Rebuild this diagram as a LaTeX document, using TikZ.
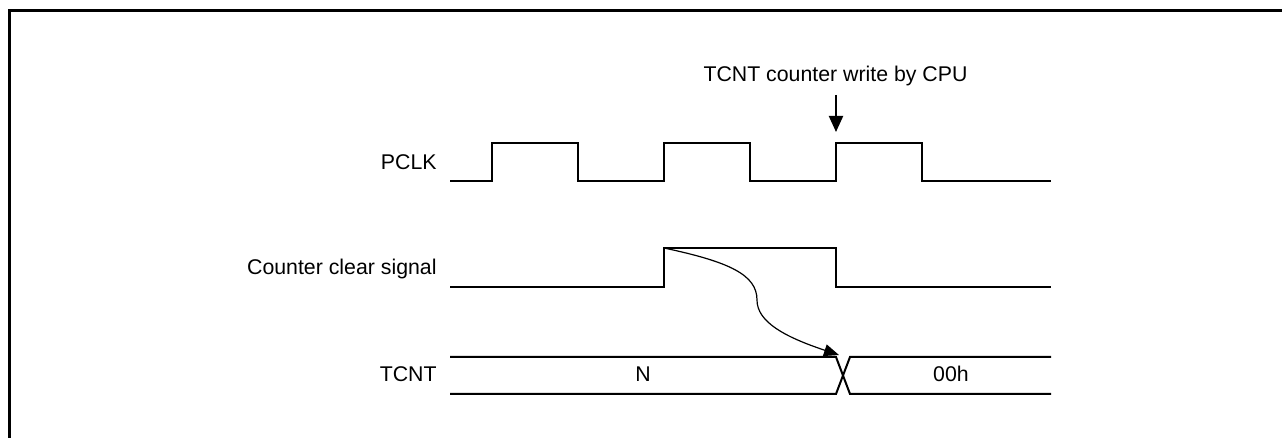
\documentclass[tikz,border=0pt]{standalone}
\usepackage{fontspec}
\setmainfont{Liberation Sans}
\usetikzlibrary{arrows.meta}

\tikzset{
  wave/.style={line width=1pt, line join=miter},
  lbl/.style={inner sep=0pt, font=\fontsize{10.65pt}{12pt}\selectfont},
  sigarrow/.style={-{Triangle[length=8pt, width=7pt]}}
}

\begin{document}
\begin{tikzpicture}[x=0.5pt, y=-0.5pt, line cap=butt]
  \useasboundingbox (0,0) rectangle (1282,438);
  \def\hp{86}
  % frame
  \draw[line width=1.5pt] (9.5,445) -- (9.5,11) -- (1290,11);
  % signal names
  \node[lbl, anchor=base east] (lpclk) at (437,169.6) {PCLK};
  \node[lbl, anchor=base east] (lclr)  at (437,275)   {Counter clear signal};
  \node[lbl, anchor=base east] (ltcnt) at (437,382)   {TCNT};
  % PCLK
  \draw[wave] (450,181) \foreach \t in {492,664,836} {
      -- (\t,181) -- (\t,143) -- (\t+\hp,143) -- (\t+\hp,181) } -- (1051,181);
  % counter clear signal
  \draw[wave] (450,287) -- (664,287) -- (664,248) -- (836,248) -- (836,287) -- (1051,287);
  % TCNT bus
  \draw[wave] (450,357) -- (836,357) -- (850,394) -- (1051,394);
  \draw[wave] (450,394) -- (836,394) -- (850,357) -- (1051,357);
  \node[lbl, anchor=base] (vN)  at (643,382) {N};
  \node[lbl, anchor=base] (v00) at (951,382) {00h};
  % CPU write
  \node[lbl, anchor=base, outer sep=4.2pt] (wr) at (835.5,82) {TCNT counter write by CPU};
  \coordinate (wrpt) at (836,132);
  \draw[line width=1pt, sigarrow] (wr.south -| wrpt) -- (wrpt);
  % clear -> TCNT
  \coordinate (clrup) at (664,248);
  \coordinate (xing)  at (839,355);
  \draw[line width=0.6pt, -{Triangle[length=7.5pt, width=6pt]}]
    (clrup) .. controls (730,262) and (757,275) .. (757,300)
    .. controls (757,322) and (785,337) .. (xing);
\end{tikzpicture}
\end{document}
